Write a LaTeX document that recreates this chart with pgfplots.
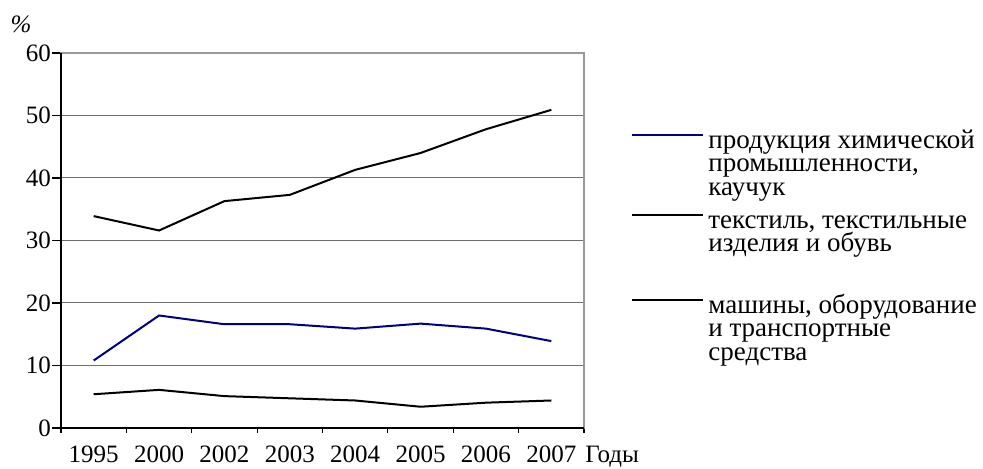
\documentclass[border=0pt]{standalone}
\usepackage{pgfplots}
\pgfplotsset{compat=1.18}
\usepackage{fontspec}
\setmainfont{Liberation Serif}
\definecolor{navyline}{RGB}{0,0,128}
\definecolor{gridgray}{RGB}{110,110,110}
\begin{document}
\begin{tikzpicture}
\useasboundingbox (-30.5pt,-20.5pt) rectangle (461pt,214pt);
\begin{axis}[
  at={(0,0)}, anchor=south west,
  scale only axis,
  width=261.5pt, height=187.5pt,
  xmin=-0.5, xmax=7.5,
  ymin=0, ymax=60,
  xtick={0,...,7},
  xticklabels={1995,2000,2002,2003,2004,2005,2006,2007},
  minor xtick={-0.5,0.5,...,7.5},
  ytick={0,10,...,60},
  xtick pos=lower, ytick pos=left,
  tick align=outside,
  major x tick style={draw=none},
  minor tick length=2.5pt,
  major tick length=4.5pt,
  every tick/.style={black, line width=0.6pt},
  ymajorgrids,
  grid style={gridgray, line width=0.5pt},
  axis line style={gray!80, line width=0.8pt},
  tick label style={font=\fontsize{12.5}{14}\selectfont},
  /pgf/number format/assume math mode=true,
  yticklabel style={xshift=3pt},
  xticklabel style={yshift=-1pt},
  clip=false,
]
% продукция химической промышленности, каучук
\addplot[navyline, line width=1pt] coordinates {
  (0,10.8) (1,18.0) (2,16.6) (3,16.6) (4,15.9) (5,16.7) (6,15.9) (7,13.9)};
% текстиль, текстильные изделия и обувь
\addplot[black, line width=1pt] coordinates {
  (0,33.9) (1,31.6) (2,36.3) (3,37.3) (4,41.3) (5,44.0) (6,47.8) (7,50.9)};
% машины, оборудование и транспортные средства
\addplot[black, line width=1pt] coordinates {
  (0,5.4) (1,6.1) (2,5.1) (3,4.75) (4,4.4) (5,3.4) (6,4.05) (7,4.4)};
\draw[black, line width=0.8pt] (rel axis cs:0,1) -- (rel axis cs:0,0) -- (rel axis cs:1,0);
\end{axis}
% labels
\node[font=\itshape\fontsize{12.5}{14}\selectfont] at (-20pt,202pt) {\%};
\node[anchor=base west, font=\fontsize{12.5}{14}\selectfont, inner sep=0pt] at (262pt,-17.5pt) {Годы};
% legend
\begin{scope}[every node/.style={anchor=base west, inner sep=0pt,
    font=\fontsize{13.5}{11.7}\selectfont}]
\draw[navyline, line width=1pt] (285.3pt,146.3pt) -- (321pt,146.3pt);
\node at (323.5pt,139.85pt) {продукция химической};
\node at (323.5pt,128.15pt) {промышленности,};
\node at (323.5pt,116.45pt) {каучук};
\draw[black, line width=1pt] (285.3pt,106.3pt) -- (321pt,106.3pt);
\node at (323.5pt,99.85pt) {текстиль, текстильные};
\node at (323.5pt,88.15pt) {изделия и обувь};
\draw[black, line width=1pt] (285.3pt,64.15pt) -- (321pt,64.15pt);
\node at (323.5pt,57.35pt) {машины, оборудование};
\node at (323.5pt,45.65pt) {и транспортные};
\node at (323.5pt,33.95pt) {средства};
\end{scope}
\end{tikzpicture}
\end{document}
